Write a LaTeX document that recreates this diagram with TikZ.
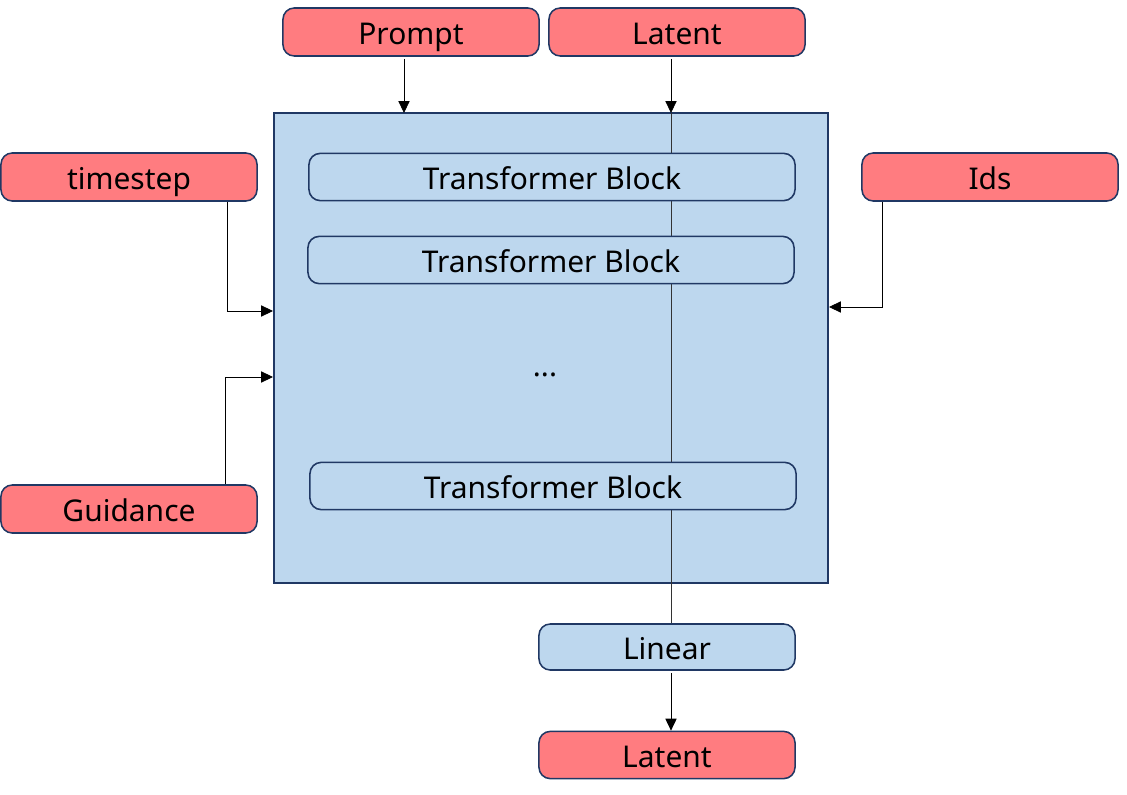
\documentclass[tikz,border=0pt]{standalone}
\usepackage{fontspec}
\setmainfont{Noto Sans}
\usetikzlibrary{arrows.meta}
\definecolor{inred}{HTML}{FF7C80}
\definecolor{blkblue}{HTML}{BDD7EE}
\definecolor{edgeblue}{HTML}{203864}
\tikzset{
  boxfont/.style={font=\fontsize{21.3}{25}\selectfont,text height=19pt,text depth=1.8pt},
  inbox/.style={draw=edgeblue,fill=inred,line width=1.1pt,rounded corners=8pt,
    minimum width=6.4cm,minimum height=1.2cm,inner sep=0pt,boxfont},
  tblock/.style={draw=edgeblue,fill=blkblue,line width=1.1pt,rounded corners=8pt,
    minimum width=12.15cm,minimum height=1.18cm,inner sep=0pt,boxfont},
  arr/.style={-{Triangle[length=8.5pt,width=8pt]},line width=0.6pt}
}
\begin{document}
\begin{tikzpicture}[x=0.025cm,y=-0.025cm]
		\useasboundingbox (0,0) rectangle (1127,795);
		
		% Main box
		\node[draw=edgeblue,fill=blkblue,line width=1.3pt,minimum width=13.85cm,minimum height=11.75cm,inner sep=0pt] (main) at (551,348) {};
		
		% Inputs
		\node[inbox] (prompt) at (411,32) {Prompt};
		\node[inbox] (latin) at (677,32) {Latent};
		\node[inbox] (tstep) at (129,177) {timestep};
		\node[inbox] (ids) at (990,177) {Ids};
		\node[inbox] (guid) at (129,509) {Guidance};
		
		% Latent path
		\coordinate (latent top) at (671,113);
		\coordinate (lin top) at (671,624);
		\draw[line width=0.6pt,black!80] (latent top) -- (lin top);
		
		% Blocks
		\node[tblock] (tb1) at (552,177) {Transformer Block};
		\node[tblock] (tb2) at (551,260) {Transformer Block};
		\node[boxfont] (dots) at (545,364) {...};
		\node[tblock] (tb3) at (553,486) {Transformer Block};
		
		% Output
		\node[tblock,minimum width=6.4cm,minimum height=1.15cm] (linear) at (667,647) {Linear};
		\node[inbox,minimum height=1.18cm] (latout) at (667,755) {Latent};
		
		% Arrows
		\draw[arr] (prompt.south -| 404,0) ++(0,2) -- (404,113);
		\draw[arr] (latin.south -| latent top) ++(0,2) -- (latent top);
		\draw[arr] (tstep.south -| 227,0) -- (227,311) -- (main.west |- 0,311);
		\draw[arr] (guid.north -| 225,0) -- (225,377) -- (main.west |- 0,377);
		\draw[arr] (ids.south -| 882,0) -- (882,307) -- (main.east |- 0,307);
		\draw[arr] (linear.south -| latent top) ++(0,2) -- (latout.north -| latent top);
		
\end{tikzpicture}
\end{document}
